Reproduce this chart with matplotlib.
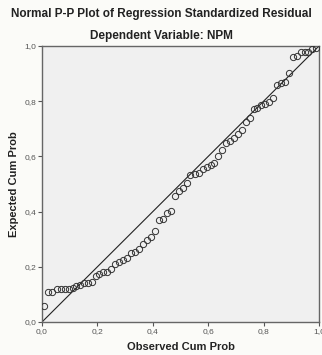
import numpy as np
import matplotlib
matplotlib.use("Agg")
from matplotlib import pyplot as plt

# observed vs expected cumulative probabilities
observed = [0.006, 0.023, 0.037, 0.053, 0.069, 0.083, 0.098, 0.111, 0.124, 0.137,
            0.152, 0.165, 0.180, 0.195, 0.207, 0.222, 0.236, 0.249, 0.264, 0.278,
            0.294, 0.308, 0.323, 0.337, 0.351, 0.366, 0.380, 0.395, 0.407, 0.421,
            0.436, 0.450, 0.465, 0.479, 0.493, 0.508, 0.522, 0.535, 0.551, 0.566,
            0.580, 0.594, 0.609, 0.622, 0.636, 0.650, 0.664, 0.679, 0.693, 0.708,
            0.722, 0.736, 0.751, 0.765, 0.777, 0.791, 0.805, 0.821, 0.835, 0.849,
            0.863, 0.877, 0.892, 0.905, 0.919, 0.934, 0.948, 0.961, 0.976, 0.990]
expected = [0.058, 0.107, 0.108, 0.118, 0.119, 0.119, 0.120, 0.124, 0.129, 0.135,
            0.141, 0.142, 0.146, 0.166, 0.175, 0.180, 0.182, 0.192, 0.211, 0.219,
            0.225, 0.233, 0.251, 0.252, 0.265, 0.283, 0.297, 0.307, 0.331, 0.370,
            0.372, 0.396, 0.403, 0.457, 0.476, 0.486, 0.505, 0.533, 0.536, 0.541,
            0.554, 0.560, 0.569, 0.575, 0.600, 0.622, 0.650, 0.657, 0.668, 0.680,
            0.696, 0.726, 0.738, 0.771, 0.774, 0.786, 0.790, 0.796, 0.810, 0.859,
            0.865, 0.868, 0.901, 0.959, 0.965, 0.979, 0.979, 0.979, 0.989, 0.992]
ticks = [0.0, 0.2, 0.4, 0.6, 0.8, 1.0]
tick_labels = ["0,0", "0,2", "0,4", "0,6", "0,8", "1,0"]

plt.rcParams['font.family'] = ['Liberation Sans', 'DejaVu Sans']

fig = plt.figure(figsize=(3.22, 3.55), dpi=100)
fig.patch.set_facecolor('#fbfbf8')
ax = fig.add_axes([42 / 322, 33 / 355, 277 / 322, 276 / 355])
ax.set_facecolor('#f0f0f0')

ax.plot([0, 1], [0, 1], color='#222222', lw=0.8, zorder=2)
ax.plot(observed, expected, 'o', mfc='none', mec='#333333', ms=4.5, mew=0.7, zorder=3)

ax.set_xlim(0, 1)
ax.set_ylim(0, 1)
ax.set_xticks(ticks)
ax.set_xticklabels(tick_labels)
ax.set_yticks(ticks)
ax.set_yticklabels(tick_labels)
ax.tick_params(length=3, width=0.8, color='#555555', labelsize=6, labelcolor='#555555', pad=1)
for s in ax.spines.values():
    s.set_color('#666666')
    s.set_linewidth(1.0)

ax.set_xlabel('Observed Cum Prob', fontsize=8, fontweight='bold', color='#222222', labelpad=5)
ax.set_ylabel('Expected Cum Prob', fontsize=8, fontweight='bold', color='#222222', labelpad=4)

fig.text(0.5, 1 - 14 / 355, 'Normal P-P Plot of Regression Standardized Residual',
         ha='center', va='center', fontsize=8.5, fontweight='bold', color='#222222')
fig.text(0.5, 1 - 36 / 355, 'Dependent Variable: NPM',
         ha='center', va='center', fontsize=8.5, fontweight='bold', color='#222222')

fig.savefig('out.png', dpi=100, facecolor=fig.get_facecolor())
